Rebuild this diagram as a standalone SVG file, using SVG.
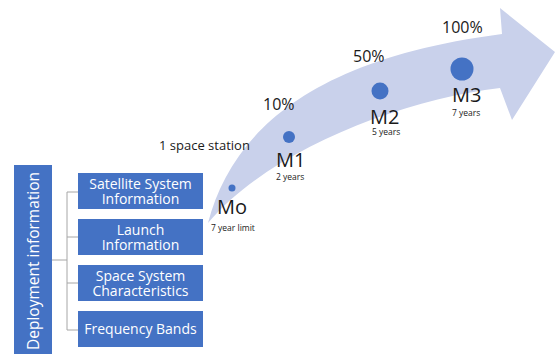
<svg xmlns="http://www.w3.org/2000/svg" width="555" height="354" viewBox="0 0 555 354">
<style>
.t{font-family:"Open Sans","Noto Sans",sans-serif;fill:#1a1a1a}
.pct{font-size:16px}
.m{font-size:20px}
.s{font-size:8.5px}
.box{fill:#4472c4}
.bt{font-family:"Open Sans","Noto Sans",sans-serif;font-size:14px;fill:#ffffff;text-anchor:middle}
.dot{fill:#4472c4}
.ln{stroke:#a6a6a6;stroke-width:1;fill:none}
</style>
<g id="arrow">
<path d="M208,223 C230,140 300,60 502,34 L500,8 L555,52 L512,120 L500,88 C400,100 270,150 208,223 Z" fill="#c9d1eb"/>
</g>
<g id="milestones">
<circle class="dot" cx="232" cy="188" r="3.5"/>
<circle class="dot" cx="289" cy="137" r="6"/>
<circle class="dot" cx="380" cy="91" r="8.5"/>
<circle class="dot" cx="462" cy="69" r="11.5"/>
<text class="t pct" x="442" y="33">100%</text>
<text class="t pct" x="353" y="62">50%</text>
<text class="t pct" x="263" y="110">10%</text>
<text class="t" style="font-size:13px" x="159" y="150">1 space station</text>
<text class="t m" x="217" y="214">Mo</text>
<text class="t s" x="211" y="231">7 year limit</text>
<text class="t m" x="276" y="167">M1</text>
<text class="t s" x="276" y="180">2 years</text>
<text class="t m" x="370" y="124">M2</text>
<text class="t s" x="372" y="135">5 years</text>
<text class="t m" x="452" y="102">M3</text>
<text class="t s" x="452" y="116">7 years</text>
</g>
<g id="connectors">
<path class="ln" d="M52,260 H67 M67,192 V330 M67,192 H78 M67,237 H78 M67,283 H78 M67,330 H78"/>
</g>
<g id="deployment">
<rect class="box" x="14" y="165" width="38" height="189"/>
<text font-family="Open Sans, Noto Sans, sans-serif" font-size="15.5" fill="#ffffff" text-anchor="middle" transform="translate(39,261) rotate(-90)">Deployment information</text>
</g>
<g id="satellite">
<rect class="box" x="78" y="173" width="125" height="36"/>
<text class="bt" x="140.5" y="189">Satellite System</text>
<text class="bt" x="140.5" y="204">Information</text>
</g>
<g id="launch">
<rect class="box" x="78" y="219" width="125" height="36"/>
<text class="bt" x="140.5" y="235">Launch</text>
<text class="bt" x="140.5" y="250">Information</text>
</g>
<g id="space">
<rect class="box" x="78" y="265" width="125" height="36"/>
<text class="bt" x="140.5" y="281">Space System</text>
<text class="bt" x="140.5" y="296">Characteristics</text>
</g>
<g id="frequency">
<rect class="box" x="78" y="311" width="125" height="36"/>
<text class="bt" x="140.5" y="334">Frequency Bands</text>
</g>
</svg>
